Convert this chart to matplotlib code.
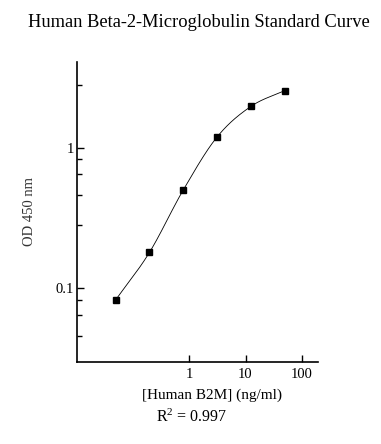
import numpy as np
import matplotlib
matplotlib.use("Agg")
import matplotlib.pyplot as plt
from matplotlib.ticker import FixedLocator, NullFormatter, NullLocator

plt.rcParams['font.family'] = ['Liberation Serif', 'DejaVu Serif']

# standard points (ng/ml vs OD 450)
conc = [0.049, 0.195, 0.78, 3.125, 12.5, 50.0]
od = [0.083, 0.18, 0.50, 1.19, 1.96, 2.54]
x_ticks = [1, 10, 100]
y_ticks = [0.1, 1]
y_tick_labels = ['0.1', '1']


def smooth(xs, ys, xq):
    # cubic hermite (catmull-rom tangents) through the points, log-log space
    xs = np.asarray(xs); ys = np.asarray(ys)
    n = len(xs)
    h = np.diff(xs)
    d = np.diff(ys) / h
    m = np.zeros(n)
    m[0] = d[0]
    m[-1] = d[-1]
    for k in range(1, n - 1):
        m[k] = (ys[k + 1] - ys[k - 1]) / (xs[k + 1] - xs[k - 1])
    out = np.empty_like(xq)
    for i, xv in enumerate(xq):
        k = min(max(np.searchsorted(xs, xv) - 1, 0), n - 2)
        t = (xv - xs[k]) / h[k]
        h00 = 2 * t**3 - 3 * t**2 + 1
        h10 = t**3 - 2 * t**2 + t
        h01 = -2 * t**3 + 3 * t**2
        h11 = t**3 - t**2
        out[i] = h00 * ys[k] + h10 * h[k] * m[k] + h01 * ys[k + 1] + h11 * h[k] * m[k + 1]
    return out


lx = np.log10(conc)
ly = np.log10(od)
xx = np.linspace(lx[0], lx[-1], 300)
yy = smooth(lx, ly, xx)

fig = plt.figure(figsize=(3.81, 4.44), dpi=100)
ax = fig.add_axes([0.2021, 0.1847, 0.6325, 0.6757])

ax.plot(10**xx, 10**yy, color='black', lw=0.6)
ax.plot(conc, od, 's', color='black', ms=4.3)

ax.set_xscale('log')
ax.set_yscale('log')
ax.set_xlim(0.01, 195)
ax.set_ylim(0.030, 4.05)

ax.xaxis.set_major_locator(FixedLocator(x_ticks))
ax.xaxis.set_minor_locator(NullLocator())
ax.set_xticklabels([str(v) for v in x_ticks])

minor = []
for dec in [0.01, 0.1, 1]:
    for f in [2.8, 4.6, 6.5, 8.3]:
        minor.append(dec * f)
ax.yaxis.set_major_locator(FixedLocator(y_ticks))
ax.yaxis.set_minor_locator(FixedLocator(minor))
ax.yaxis.set_minor_formatter(NullFormatter())
ax.set_yticklabels(y_tick_labels)

for s in ['top', 'right']:
    ax.spines[s].set_visible(False)
for s in ['left', 'bottom']:
    ax.spines[s].set_linewidth(1.2)

ax.tick_params(which='major', direction='in', length=5, width=1, labelsize=10.5, pad=4)
ax.tick_params(which='minor', direction='in', length=3.5, width=1)
ax.tick_params(axis='y', which='major', pad=2)

ax.set_ylabel('OD 450 nm', fontsize=10.5, color='#333333', labelpad=14)

fig.text(0.522, 0.95, 'Human Beta-2-Microglobulin Standard Curve', ha='center', va='center', fontsize=13.3)
fig.text(0.557, 0.110, '[Human B2M] (ng/ml)', ha='center', va='center', fontsize=11)
fig.text(0.502, 0.060, 'R$\\mathregular{^2}$ = 0.997', ha='center', va='center', fontsize=11.5)

fig.savefig('out.png', dpi=100)
